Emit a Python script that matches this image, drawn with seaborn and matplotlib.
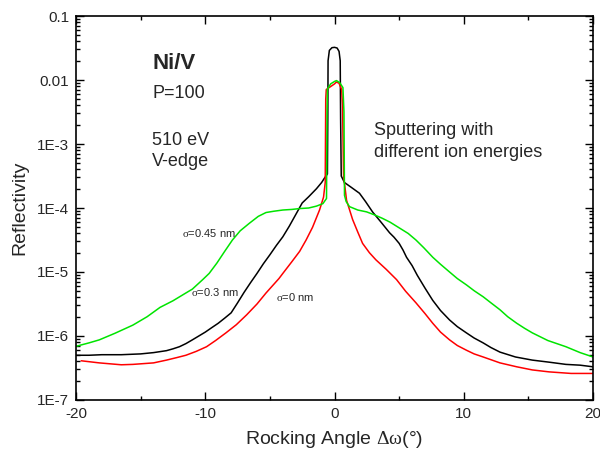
import numpy as np
import pandas as pd
import matplotlib
matplotlib.use("Agg")
import matplotlib.pyplot as plt
import seaborn as sns
from matplotlib.ticker import LogLocator, NullFormatter, FixedLocator, FixedFormatter

# Rocking curves of Ni/V multilayers (P=100) at 510 eV, V-edge
x_sigma03 = [-20, -19, -18, -16.5, -15, -14, -13, -12.5, -12, -11.5, -11, -10.5, -10, -9.5,
             -9, -8.5, -8, -7.5, -7, -6.5, -6, -5.5, -5, -4.5, -4, -3.5, -3, -2.5, -2.0,
             -1.4, -1.0, -0.77, -0.55, -0.52, -0.5, -0.4, -0.2, 0, 0.2, 0.35, 0.44, 0.47,
             0.52, 0.77, 1.3, 1.93, 2.4, 2.94, 3.6, 4.26, 4.6, 5.0, 5.3, 5.57, 6.0, 6.4,
             7.0, 7.6, 8.2, 8.9, 9.5, 10.2, 10.8, 11.5, 12.1, 12.8, 14.0, 15.3, 16.6, 17.9,
             19, 20]
r_sigma03 = [5.0e-7, 5.0e-7, 5.1e-7, 5.1e-7, 5.25e-7, 5.5e-7, 5.9e-7, 6.3e-7, 6.8e-7,
             7.6e-7, 8.7e-7, 1.0e-6, 1.15e-6, 1.35e-6, 1.58e-6, 1.9e-6, 2.3e-6, 3.3e-6,
             4.8e-6, 6.8e-6, 9.5e-6, 1.35e-5, 1.86e-5, 2.6e-5, 3.55e-5, 5.2e-5, 7.9e-5,
             1.2e-4, 1.5e-4, 2.0e-4, 2.5e-4, 2.95e-4, 3.4e-4, 2.5e-3, 2.0e-2, 2.9e-2,
             3.2e-2, 3.24e-2, 3.16e-2, 2.8e-2, 2.0e-2, 2.5e-3, 3.16e-4, 2.5e-4, 2.1e-4,
             1.7e-4, 1.26e-4, 8.7e-5, 6.0e-5, 4.1e-5, 3.5e-5, 2.8e-5, 2.2e-5, 1.7e-5,
             1.26e-5, 8.9e-6, 5.6e-6, 3.6e-6, 2.5e-6, 1.78e-6, 1.4e-6, 1.12e-6, 9.3e-7,
             7.8e-7, 6.6e-7, 5.6e-7, 4.7e-7, 4.2e-7, 3.9e-7, 3.6e-7, 3.5e-7, 3.3e-7]

x_sigma0 = [-19.6, -18.2, -16.5, -15.6, -14, -13, -12.2, -11.5, -10.7, -9.9, -9.2, -8.4,
            -7.6, -6.8, -6.0, -5.3, -4.3, -4.0, -3.3, -2.7, -2.2, -1.7, -1.16, -0.85, -0.72,
            -0.68, -0.64, -0.3, 0, 0.15, 0.35, 0.55, 0.62, 0.70, 0.93, 1.4, 1.8, 2.17, 2.7,
            3.2, 4.0, 4.8, 5.5, 6.3, 7.0, 7.6, 8.2, 8.9, 9.5, 10.2, 10.8, 11.5, 12.8, 14.1,
            15.3, 16.6, 18.3, 20]
r_sigma0 = [4.1e-7, 3.8e-7, 3.55e-7, 3.6e-7, 3.8e-7, 4.2e-7, 4.6e-7, 5.0e-7, 5.75e-7,
            6.8e-7, 8.5e-7, 1.12e-6, 1.5e-6, 2.14e-6, 3.16e-6, 4.7e-6, 7.9e-6, 9.5e-6,
            1.45e-5, 2.1e-5, 3.16e-5, 5.0e-5, 9.3e-5, 1.48e-4, 2.5e-4, 5.0e-3, 7.1e-3,
            7.9e-3, 8.7e-3, 9.3e-3, 8.9e-3, 7.1e-3, 4.0e-3, 3.2e-4, 1.32e-4, 6.6e-5,
            4.2e-5, 2.8e-5, 2.0e-5, 1.55e-5, 1.1e-5, 7.6e-6, 5.0e-6, 3.3e-6, 2.24e-6,
            1.58e-6, 1.15e-6, 8.7e-7, 7.1e-7, 6.0e-7, 5.25e-7, 4.7e-7, 3.8e-7, 3.3e-7,
            2.95e-7, 2.75e-7, 2.6e-7, 2.6e-7]

x_sigma045 = [-20, -19, -18.2, -17, -15.6, -14.5, -13.5, -12.5, -11.5, -11, -10.2, -9.7,
              -9.1, -8.5, -7.9, -7.3, -6.6, -5.9, -5.3, -4.7, -4.0, -3.3, -2.7, -2.0, -1.4,
              -0.9, -0.62, -0.58, -0.55, -0.3, 0, 0.15, 0.4, 0.65, 0.73, 0.77, 0.9, 1.16,
              1.8, 2.48, 3.1, 3.7, 4.3, 5.0, 5.7, 6.3, 6.9, 7.6, 8.2, 8.9, 9.5, 10.2, 10.8,
              11.5, 12.1, 12.8, 13.4, 14.1, 14.7, 15.3, 16.5, 17.9, 19, 20]
r_sigma045 = [6.9e-7, 7.8e-7, 8.7e-7, 1.1e-6, 1.48e-6, 2.0e-6, 2.8e-6, 3.55e-6, 4.7e-6,
              5.4e-6, 7.6e-6, 9.5e-6, 1.38e-5, 2.1e-5, 3.16e-5, 4.4e-5, 5.75e-5, 7.4e-5,
              8.5e-5, 8.9e-5, 9.3e-5, 9.5e-5, 9.8e-5, 1.0e-4, 1.07e-4, 1.17e-4, 1.41e-4,
              3.16e-3, 7.2e-3, 8.7e-3, 9.5e-3, 9.8e-3, 9.1e-3, 7.6e-3, 3.16e-3, 1.58e-4,
              1.26e-4, 1.05e-4, 9.3e-5, 8.7e-5, 7.8e-5, 6.9e-5, 6.0e-5, 4.9e-5, 4.0e-5,
              3.16e-5, 2.4e-5, 1.7e-5, 1.32e-5, 1.0e-5, 7.9e-6, 6.3e-6, 5.1e-6, 4.1e-6,
              3.3e-6, 2.57e-6, 2.0e-6, 1.58e-6, 1.32e-6, 1.12e-6, 8.5e-7, 6.8e-7, 5.5e-7,
              4.7e-7]

series_names = ["σ=0.3 nm", "σ=0 nm", "σ=0.45 nm"]
series_colors = ["#000000", "#ff0000", "#00e400"]

x_ticks = [-20, -10, 0, 10, 20]
x_tick_labels = ["-20", "-10", "0", "10", "20"]
y_ticks = [1e-7, 1e-6, 1e-5, 1e-4, 1e-3, 1e-2, 1e-1]
y_tick_labels = ["1E-7", "1E-6", "1E-5", "1E-4", "1E-3", "0.01", "0.1"]

frames = []
for name, xs, rs in zip(series_names,
                        [x_sigma03, x_sigma0, x_sigma045],
                        [r_sigma03, r_sigma0, r_sigma045]):
    frames.append(pd.DataFrame({"angle": xs, "reflectivity": rs, "sample": name}))
df = pd.concat(frames, ignore_index=True)

sns.set_style("ticks")
plt.rcParams["font.family"] = ["Liberation Sans", "DejaVu Sans"]
plt.rcParams["mathtext.fontset"] = "custom"
plt.rcParams["mathtext.rm"] = "Liberation Serif"
plt.rcParams["mathtext.it"] = "Liberation Serif:italic"

fig = plt.figure(figsize=(6.0, 4.55), dpi=100)
ax = fig.add_axes([0.1267, 0.1209, 0.8617, 0.8439])

sns.lineplot(data=df, x="angle", y="reflectivity", hue="sample",
             hue_order=series_names, palette=series_colors,
             sort=False, estimator=None, linewidth=1.1, legend=False, ax=ax)

ax.set_yscale("log")
ax.set_xlim(-20, 20)
ax.set_ylim(1e-7, 0.1)

ax.xaxis.set_major_locator(FixedLocator(x_ticks))
ax.xaxis.set_major_formatter(FixedFormatter(x_tick_labels))
ax.xaxis.set_minor_locator(FixedLocator([-15, -5, 5, 15]))
ax.yaxis.set_major_locator(FixedLocator(y_ticks))
ax.yaxis.set_major_formatter(FixedFormatter(y_tick_labels))
ax.yaxis.set_minor_locator(LogLocator(base=10, subs=np.arange(2, 10)))
ax.yaxis.set_minor_formatter(NullFormatter())

ax.tick_params(which="both", direction="in", top=True, right=True,
               color="black", width=1.0)
ax.tick_params(which="major", length=6, labelsize=11, pad=5)
ax.tick_params(which="minor", length=3)
for s in ax.spines.values():
    s.set_linewidth(1.2)
    s.set_color("black")

ax.set_xlabel(r"Rocking Angle $\mathrm{\Delta\omega}$(°)", fontsize=14, labelpad=6)
ax.set_ylabel("Reflectivity", fontsize=14, labelpad=6)

# annotations, in axes fraction
def fx(px):
    return (px - 76) / 517

def fy(py):
    return 1 - (py - 16) / 384

ax.text(fx(152), fy(69), "Ni/V", transform=ax.transAxes, fontsize=16,
        fontweight="bold", va="baseline")
ax.text(fx(152), fy(98), "P=100", transform=ax.transAxes, fontsize=13, va="baseline")
ax.text(fx(152), fy(145), "510 eV", transform=ax.transAxes, fontsize=13, va="baseline")
ax.text(fx(152), fy(166), "V-edge", transform=ax.transAxes, fontsize=13, va="baseline")
ax.text(fx(374), fy(135), "Sputtering with", transform=ax.transAxes, fontsize=13,
        va="baseline")
ax.text(fx(374), fy(157), "different ion energies", transform=ax.transAxes,
        fontsize=13, va="baseline")

for label, px, py in [("σ=0.45 nm", 182, 233), ("σ=0.3 nm", 191, 292), ("σ=0 nm", 276, 297)]:
    ax.text(fx(px), fy(py), r"$\mathrm{\sigma}$" + label[1:], transform=ax.transAxes,
            fontsize=8, va="center")

fig.savefig("out.png", dpi=100)
